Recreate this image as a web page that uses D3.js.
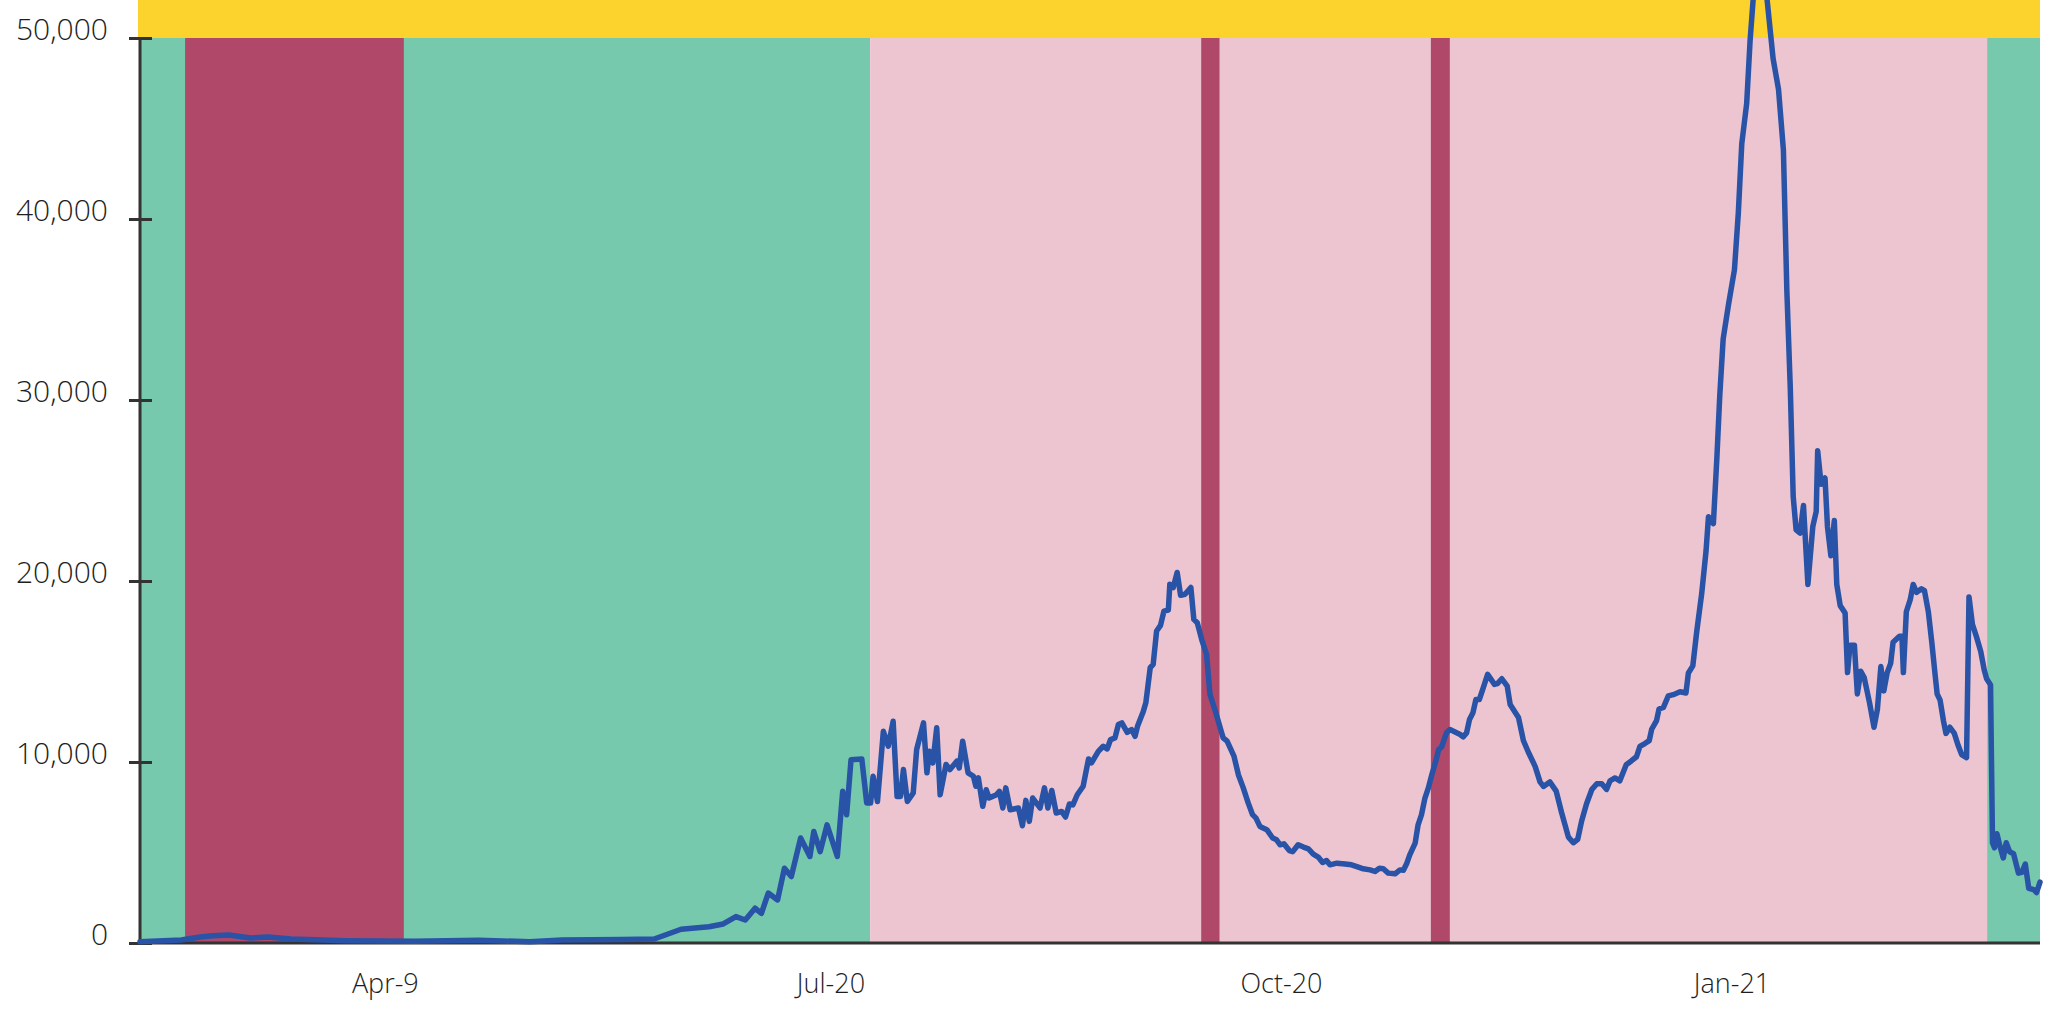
<!DOCTYPE html>
<html>
<head>
<meta charset="utf-8">
<script src="https://cdn.jsdelivr.net/npm/d3@7"></script>
<style>
  html, body { margin: 0; padding: 0; background: #ffffff; }
  svg { display: block; }
  text { font-family: "Open Sans", "Lato", sans-serif; font-weight: 300; fill: #1e1e1e; }
</style>
</head>
<body>
<svg id="chart" width="2054" height="1011"></svg>
<script>
// ---- data (days since 2020-02-11, daily cases) ----
const startDate = new Date(2020, 1, 11);
const lastDay = 388;

const dayOffset = [
  0, 8.4, 12.3, 14.9, 18.2, 22.5, 26.1, 30.8, 42.1, 56.2, 69.2, 79.6, 86.2, 98.4, 105.0,
  110.5, 116.2, 119.1, 121.7, 123.6, 125.6, 126.9, 128.3, 130.2, 131.6, 133.0, 134.9, 136.8,
  137.6, 138.9, 140.3, 142.4, 143.5, 144.3, 145.2, 147.4, 148.4, 149.2, 149.7, 150.6, 151.8,
  152.8, 153.8, 154.6, 155.3, 155.9, 156.7, 157.9, 158.6, 160.0, 160.7, 161.2, 161.9, 162.7,
  163.4, 164.6, 165.4, 166.8, 167.3, 168.0, 169.1, 170.2, 170.7, 171.2, 172.1, 172.8, 173.4,
  174.9, 175.5, 176.2, 176.8, 177.7, 179.4, 180.2, 180.9, 181.6, 182.3, 183.8, 184.7, 185.4,
  186.2, 187.1, 188.2, 189.0, 189.8, 190.5, 191.4, 192.6, 193.7, 194.3, 195.7, 196.7, 197.5,
  198.2, 199.1, 199.8, 200.5, 201.6, 202.5, 203.2, 203.7, 204.9, 205.4, 206.3, 206.9, 207.6,
  208.4, 209.1, 210.0, 210.3, 211.0, 211.8, 212.5, 213.4, 214.6, 215.2, 215.9, 216.8, 217.8,
  218.5, 219.5, 221.2, 222.0, 223.4, 224.3, 225.3, 226.3, 227.2, 227.9, 228.7, 230.1, 231.3,
  232.1, 232.8, 233.6, 234.7, 235.4, 236.5, 237.6, 238.6, 239.6, 240.6, 241.5, 242.3, 243.0,
  244.4, 246.1, 247.4, 248.8, 249.8, 251.2, 252.2, 253.1, 253.9, 254.9, 256.3, 257.3, 258.0,
  258.7, 259.3, 260.4, 261.0, 261.7, 262.4, 263.1, 263.8, 264.7, 265.2, 265.8, 266.8, 267.5,
  269.6, 270.2, 270.9, 271.5, 272.2, 272.8, 273.5, 274.3, 275.2, 276.6, 277.2, 278.1, 279.2,
  279.8, 281.5, 282.5, 283.5, 284.9, 285.9, 286.6, 287.9, 289.2, 290.3, 291.7, 292.7, 293.6,
  294.4, 295.4, 296.5, 297.5, 298.5, 299.5, 300.2, 301.2, 302.2, 303.5, 304.6, 305.6, 306.3,
  307.3, 308.2, 308.7, 309.7, 310.2, 311.1, 312.1, 313.1, 314.5, 315.7, 316.2, 317.1, 317.9,
  318.9, 319.8, 320.3, 321.3, 322.0, 322.6, 323.3, 324.4, 325.6, 326.4, 327.1, 328.1, 328.8,
  329.8, 331.0, 332.2, 333.5, 334.6, 335.6, 336.3, 337.0, 337.6, 338.2, 339.0, 339.7, 340.6,
  341.6, 342.3, 342.6, 343.3, 344.1, 344.6, 345.3, 346.0, 346.5, 347.2, 348.2, 348.7, 349.2,
  350.1, 350.7, 351.4, 352.1, 353.2, 354.1, 354.8, 355.5, 356.1, 356.8, 357.5, 358.0, 359.3,
  359.8, 360.1, 360.7, 361.5, 362.1, 362.8, 363.8, 364.4, 365.2, 365.9, 366.6, 367.0, 367.6,
  368.3, 368.8, 369.6, 370.5, 371.3, 372.0, 373.0, 373.5, 374.2, 375.0, 375.9, 376.6, 377.1,
  377.9, 378.3, 378.7, 379.2, 379.8, 380.5, 381.1, 381.8, 382.6, 383.6, 384.3, 385.0, 385.7,
  386.7, 387.3, 388.0
];

const cases = [
  70, 170, 330, 400, 440, 280, 330, 220, 130, 90, 150, 70, 170, 200, 220,
  760, 900, 1050, 1460, 1270, 1920, 1640, 2760, 2380, 4130, 3670, 5800, 4780,
  6160, 5050, 6530, 4780, 8380, 7090, 10130, 10170, 7740, 7740, 9210, 7820, 11700,
  10870, 12250, 8100, 8100, 9580, 7820, 8290, 10690, 12160, 9400, 10590, 9950, 11890,
  8190, 9860, 9580, 10040, 9670, 11150, 9400, 9210, 8660, 9120, 7550, 8470, 8010,
  8190, 8380, 7460, 8570, 7360, 7460, 6480, 7880, 6720, 8010, 7460, 8570, 7460,
  8430, 7180, 7270, 6960, 7680, 7630, 8190, 8660, 10170, 9950, 10590, 10870, 10720,
  11240, 11330, 12070, 12160, 11640, 11790, 11420, 11970, 12810, 13270, 15210, 15390, 17240,
  17550, 18340, 18400, 19820, 19640, 20470, 19210, 19270, 19640, 17880, 17700, 16780, 15950,
  13730, 12900, 11330, 11150, 10320, 9300, 8570, 7740, 7090, 6900, 6440, 6260, 5800,
  5700, 5430, 5480, 5110, 5050, 5430, 5300, 5200, 4910, 4750, 4450, 4560, 4320,
  4410, 4370, 4320, 4190, 4100, 4040, 3950, 4130, 4100, 3860, 3820, 4040, 4020,
  4410, 4870, 5520, 6530, 7090, 8010, 8570, 9300, 10130, 10690, 10830, 11610, 11790,
  11520, 11390, 11610, 12350, 12720, 13450, 13450, 14100, 14840, 14290, 14330, 14600, 14190,
  13180, 12460, 11190, 10550, 9760, 8900, 8650, 8900, 8390, 7210, 5850, 5540, 5730,
  6740, 7690, 8490, 8800, 8800, 8490, 8960, 9120, 8960, 9850, 10070, 10290, 10860,
  11020, 11180, 11810, 12290, 12930, 13020, 13650, 13720, 13880, 13810, 14920, 15310, 17200,
  19270, 21650, 23550, 23170, 26720, 30210, 33380, 35290, 37190, 40360, 44160, 46380, 49870,
  53500, 55200, 52300, 48850, 47170, 43810, 36080, 30710, 24670, 22820, 22650, 24170, 19810,
  23000, 23840, 27190, 25350, 25690, 23000, 21390, 23340, 19810, 18640, 18230, 14940, 16450,
  16450, 13760, 15010, 14670, 13260, 11920, 12920, 15270, 13930, 14940, 15450, 16620, 16950,
  16950, 14940, 18300, 18970, 19810, 19370, 19570, 19470, 18300, 16620, 14770, 13760, 13420,
  12250, 11580, 11920, 11580, 10910, 10410, 10240, 19120, 17610, 16940, 16110, 15100, 14600,
  14260, 5540, 5260, 6040, 5370, 4700, 5540, 5040, 4930, 3860, 3900, 4360, 3020,
  2950, 2790, 3360
];

// restriction phases (days since 2020-02-11)
const phaseStart = [0, 9.2, 53.9, 149.1, 216.7, 220.5, 263.6, 267.5, 377.2];
const phaseEnd   = [9.2, 53.9, 149.1, 216.7, 220.5, 263.6, 267.5, 377.2, 388];
const phaseLevel = ["open", "lockdown", "open", "restricted", "lockdown", "restricted", "lockdown", "restricted", "open"];

const yTicks = [0, 10000, 20000, 30000, 40000, 50000];
const yBandTop = 50000;
const yMax = 52100;
const xTickDays = [50, 141, 233, 325];
const xTickLabels = ["Apr-9", "Jul-20", "Oct-20", "Jan-21"];

// ---- drawing ----
const colors = { open: "#77c9ad", lockdown: "#b0486a", restricted: "#ecc5d0", over: "#fcd32d" };
const toDate = d => new Date(startDate.getTime() + d * 864e5);

const svg = d3.select("#chart");
const plotLeft = 140, plotRight = 2040, plotBottom = 943, plotTop = 0;

const x = d3.scaleTime().domain([toDate(0), toDate(lastDay)]).range([plotLeft, plotRight]);
const y = d3.scaleLinear().domain([0, yMax]).range([plotBottom, plotTop]);

// yellow band above 50,000
svg.append("rect")
  .attr("x", x(toDate(0)) - 2)
  .attr("y", y(yMax))
  .attr("width", x(toDate(lastDay)) - x(toDate(0)) + 2)
  .attr("height", y(yBandTop) - y(yMax))
  .attr("fill", colors.over);

// phase bands
svg.append("g").selectAll("rect")
  .data(phaseLevel.map((lv, i) => ({ lv, s: phaseStart[i], e: phaseEnd[i] })))
  .join("rect")
  .attr("x", d => x(toDate(d.s)))
  .attr("y", y(yBandTop))
  .attr("width", d => x(toDate(d.e)) - x(toDate(d.s)))
  .attr("height", y(0) - y(yBandTop))
  .attr("fill", d => colors[d.lv]);

// x axis
const xAxis = d3.axisBottom(x)
  .tickValues(xTickDays.map(toDate))
  .tickFormat((d, i) => xTickLabels[i])
  .tickSize(0)
  .tickSizeOuter(0)
  .tickPadding(31);
const gx = svg.append("g").attr("transform", `translate(0,${plotBottom})`).call(xAxis);
gx.select(".domain").remove();
gx.selectAll("text").style("font-size", "27px").style("font-weight", "300").attr("fill", "#1e1e1e");

svg.append("line")
  .attr("x1", plotLeft).attr("x2", plotRight)
  .attr("y1", y(0)).attr("y2", y(0))
  .attr("stroke", "#333").attr("stroke-width", 3);

// y axis
const yAxis = d3.axisLeft(y)
  .tickValues(yTicks)
  .tickFormat(d3.format(","))
  .tickSize(11)
  .tickPadding(21);
const gy = svg.append("g").attr("transform", `translate(${plotLeft},0)`).call(yAxis);
gy.select(".domain").remove();
gy.selectAll(".tick line").attr("x1", 12).attr("stroke", "#333").attr("stroke-width", 3);
gy.selectAll("text").style("font-size", "30px").style("font-weight", "300").attr("fill", "#1e1e1e").attr("dy", "0.04em");

svg.append("line")
  .attr("x1", plotLeft).attr("x2", plotLeft)
  .attr("y1", y(0) + 1.5).attr("y2", y(yBandTop))
  .attr("stroke", "#333").attr("stroke-width", 3);

// cases line
const pts = dayOffset.map((d, i) => ({ t: toDate(d), v: cases[i] }));
svg.append("path")
  .datum(pts)
  .attr("fill", "none")
  .attr("stroke", "#2853a6")
  .attr("stroke-width", 5.5)
  .attr("stroke-linejoin", "round")
  .attr("stroke-linecap", "round")
  .attr("d", d3.line().x(d => x(d.t)).y(d => y(d.v)));
</script>
</body>
</html>
